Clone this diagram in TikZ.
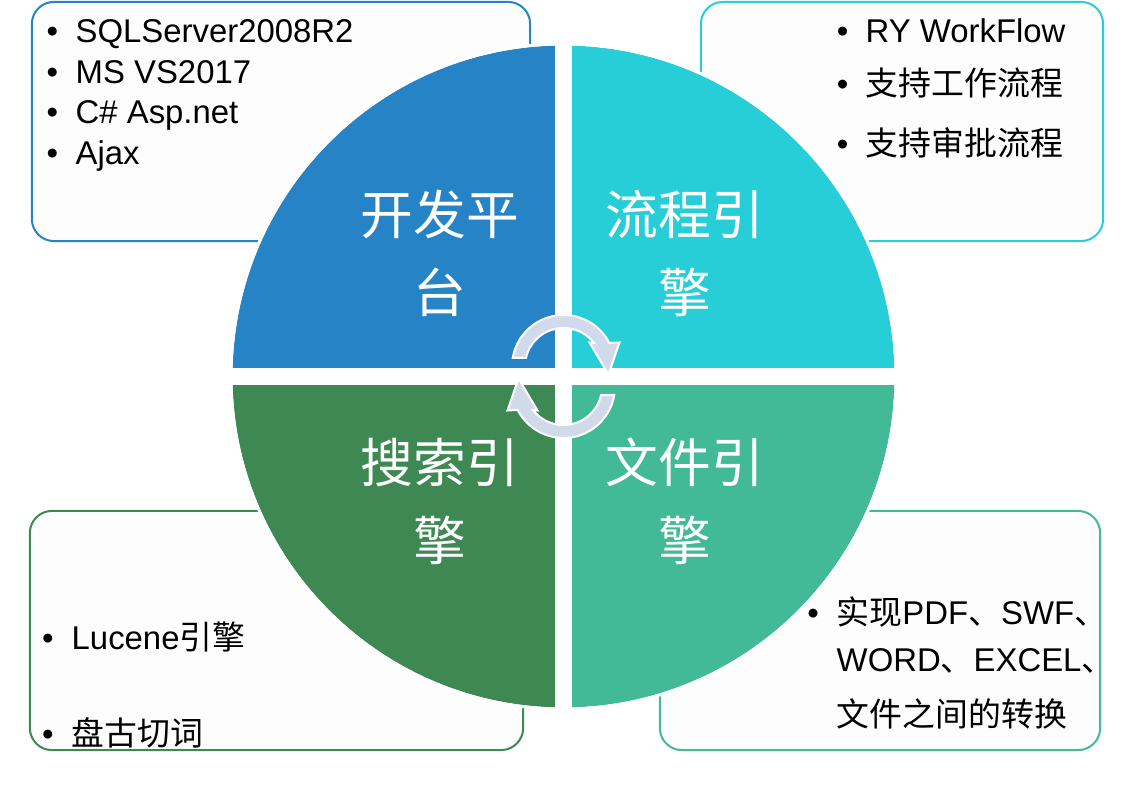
\documentclass[tikz,border=0pt]{standalone}
\usepackage{fontspec}
\setmainfont{Liberation Sans}
\newfontfamily\cjk{Noto Sans CJK SC}
\definecolor{quadBlue}{RGB}{38,132,198}
\definecolor{quadCyan}{RGB}{40,206,215}
\definecolor{quadTeal}{RGB}{67,186,151}
\definecolor{quadGreen}{RGB}{62,137,83}
\definecolor{arrowFill}{RGB}{209,218,235}
\definecolor{boxFill}{RGB}{253,253,253}
\newcommand\bodyfont{\fontsize{9.35}{11}\selectfont}
\newcommand\labelfont{\cjk\fontsize{15}{22.2}\selectfont}
\usetikzlibrary{positioning, calc}

\begin{document}
\begin{tikzpicture}[
    x=0.01cm, y=0.01cm,
    infobox/.style={rectangle, fill=boxFill, line width=0.02cm, rounded corners=0.22cm,
                    minimum height=2.39cm},
    quadlabel/.style={font=\labelfont, text=white, align=center},
    bul/.style={anchor=base, inner sep=0pt, font=\bodyfont},
    itm/.style={anchor=base west, inner sep=0pt, font=\bodyfont},
    cyclearrow/.style={fill=arrowFill, draw=white, line width=0.02cm},
    gapline/.style={white, line width=0.17cm},
  ]
    \useasboundingbox (0,0) rectangle (1146,788);

    % Boxes behind the circle
    \node[infobox, draw=quadBlue, minimum width=4.98cm] (boxTL) at (281,666.5) {};
    \node[infobox, draw=quadCyan, minimum width=4.02cm] (boxTR) at (902,666.5) {};
    \node[infobox, draw=quadGreen, minimum width=4.93cm] (boxBL) at (276.5,157.5) {};
    \node[infobox, draw=quadTeal, minimum width=4.40cm] (boxBR) at (880,157.5) {};

    % Circle of four quadrants
    \coordinate (C) at (563.5,411.5);
    \foreach \a/\col in {90/quadBlue, 0/quadCyan, 270/quadTeal, 180/quadGreen} {
      \fill[\col] (C) -- ++(\a:331) arc[start angle=\a, end angle=\a+90, radius=331] -- cycle;
    }
    \draw[white, line width=0.03cm] (C) circle[radius=332.5];
    \draw[gapline] ($(C)+(0,-334)$) -- ($(C)+(0,334)$);
    \draw[gapline] ($(C)+(-334,0)$) -- ($(C)+(334,0)$);

    \node[quadlabel] (devPlatform) at (440,534.5) {开发平\\台};
    \node[quadlabel] (flowEngine) at (685,534.5) {流程引\\擎};
    \node[quadlabel] (searchEngine) at (440,287) {搜索引\\擎};
    \node[quadlabel] (fileEngine) at (685,287) {文件引\\擎};

    % Cycle arrows in the middle
    \foreach \ang in {0,180} {
      \begin{scope}[shift={(C)}, rotate=\ang, shift={(0,10)}]
        \draw[cyclearrow] (170.5:51.5) arc[start angle=170.5, end angle=27.1, radius=51.5]
          -- (56,24) -- (45,-8) -- (26,24) -- (30.5,23.5)
          arc[start angle=37.6, end angle=167.25, radius=38.5] -- cycle;
      \end{scope}
    }

    % Top left list
    \foreach \i/\y/\txt in {1/745/SQLServer2008R2, 2/704.5/MS VS2017, 3/664/{C\# Asp.net}, 4/623/Ajax} {
      \node[bul] (tlBul\i) at (52.5,\y) {•};
      \node[itm] (tlItem\i) at (75,\y) {\txt};
    }

    % Top right list
    \foreach \i/\y/\txt in {1/745/RY WorkFlow, 2/692/{\cjk 支持工作流程}, 3/632/{\cjk 支持审批流程}} {
      \node[bul] (trBul\i) at (842.5,\y) {•};
      \node[itm] (trItem\i) at (865,\y) {\txt};
    }

    % Bottom left list
    \foreach \i/\y/\txt in {1/138.5/{Lucene{\cjk 引擎}}, 2/42.5/{\cjk 盘古切词}} {
      \node[bul] (blBul\i) at (48,\y) {•};
      \node[itm] (blItem\i) at (71,\y) {\txt};
    }

    % Bottom right list (one wrapped item)
    \node[bul] (brBul1) at (813,163) {•};
    \node[itm] (brItem1) at (836,163) {{\cjk 实现}PDF{\cjk 、}SWF{\cjk 、}};
    \node[itm] (brItem2) at (836,116.3) {WORD{\cjk 、}EXCEL{\cjk 、}};
    \node[itm] (brItem3) at (836,62) {\cjk 文件之间的转换};
  \end{tikzpicture}
\end{document}
